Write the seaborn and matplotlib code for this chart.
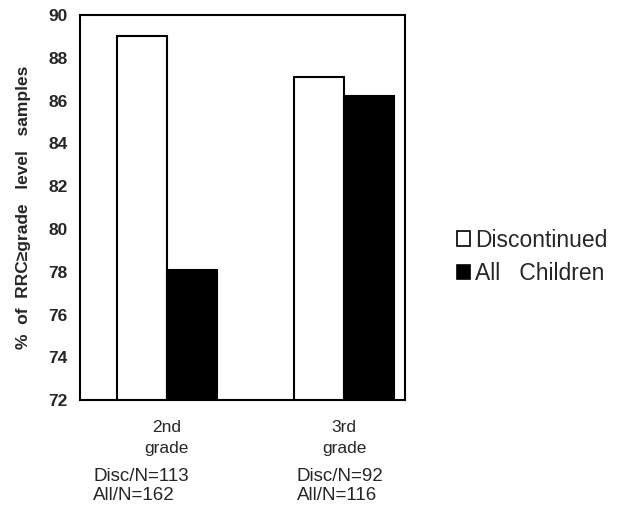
import matplotlib
matplotlib.use("Agg")
import matplotlib.pyplot as plt
import seaborn as sns
import pandas as pd
from matplotlib.patches import Patch

grades = ["2nd\ngrade", "3rd\ngrade"]
series = ["Discontinued", "All   Children"]
disc_vals = [89.0, 87.1]
all_vals = [78.1, 86.2]
n_labels = ["Disc/N=113\nAll/N=162", "Disc/N=92\nAll/N=116"]
yticks = [72, 74, 76, 78, 80, 82, 84, 86, 88, 90]

df = pd.DataFrame({
    "grade": grades * 2,
    "group": [series[0]] * 2 + [series[1]] * 2,
    "value": disc_vals + all_vals,
})

sns.set_style("white")
fam = ["Liberation Sans", "DejaVu Sans"]
plt.rcParams["font.family"] = fam

fig = plt.figure(figsize=(6.35, 5.15), dpi=100)
ax = fig.add_axes([0.126, 0.223, 0.512, 0.748])

sns.barplot(data=df, x="grade", y="value", hue="group", order=grades,
            hue_order=series, palette=["white", "black"], edgecolor="black",
            linewidth=1.5, width=0.565, ax=ax, legend=False, errorbar=None)

ax.set_ylim(72, 90)
ax.set_xlim(-0.49, 1.345)
ax.set_yticks(yticks)
ax.set_yticklabels([str(t) for t in yticks], fontsize=12.5, fontweight="bold")
ax.set_xticks([0, 1])
ax.set_xticklabels(grades, fontsize=12.5, linespacing=1.5)
ax.tick_params(axis="x", length=0, pad=14)
ax.tick_params(axis="y", length=0, pad=9)
ax.set_xlabel("")
ax.set_ylabel("%  of  RRC≥grade   level   samples", fontsize=12.5,
              fontweight="bold", labelpad=12)
for s in ax.spines.values():
    s.set_visible(True)
    s.set_color("black")
    s.set_linewidth(1.5)

fig.text(93 / 635, 1 - 468 / 515, n_labels[0], fontsize=13.5, ha="left",
         va="top", linespacing=1.15)
fig.text(297 / 635, 1 - 468 / 515, n_labels[1], fontsize=13.5, ha="left",
         va="top", linespacing=1.15)

handles = [Patch(facecolor="white", edgecolor="black", linewidth=1.2),
           Patch(facecolor="black", edgecolor="black", linewidth=1.2)]
fig.legend(handles, series, loc="center left",
           bbox_to_anchor=(436 / 635, 1 - 257 / 515), frameon=False,
           fontsize=16.5, handlelength=0.6, handleheight=0.6,
           handletextpad=0.2, labelspacing=0.45)

fig.savefig("out.png", dpi=100)
